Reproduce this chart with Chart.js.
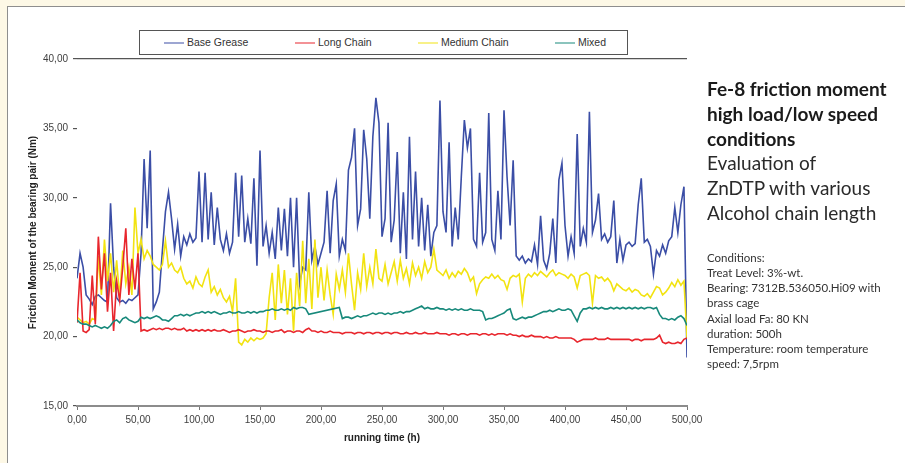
<!DOCTYPE html>
<html>
<head>
<meta charset="utf-8">
<title>Fe-8 friction moment</title>
<script src="https://cdn.jsdelivr.net/npm/chart.js@4.4.1/dist/chart.umd.min.js"></script>
<style>
    html, body { margin: 0; padding: 0; }
    body {
        width: 905px; height: 463px; position: relative; overflow: hidden;
        background: #fdf8e6;
        font-family: "Liberation Sans", Arial, sans-serif;
    }
    #panel {
        position: absolute; left: 7px; top: 6px; width: 910px; height: 470px;
        background: #fff; border: 1px solid #8e8e8e;
    }
    #chartWrap { position: absolute; left: 0; top: 0; width: 720px; height: 463px; }
    #legend {
        position: absolute; left: 139px; top: 30px; width: 487px; height: 23px;
        border: 1px solid #555; background: #fff;
    }
    .item {
        position: absolute; top: 0; height: 23px; line-height: 23px;
        font-size: 10.5px; color: #333; white-space: nowrap;
    }
    .item i {
        display: inline-block; width: 20px; height: 2px; vertical-align: middle;
        margin-right: 3px; opacity: 0.5;
    }
    #note {
        position: absolute; left: 707px; top: 77px; width: 198px;
        font-family: Lato, "Open Sans", sans-serif;
    }
    #note .big { font-size: 19px; line-height: 24.8px; color: #2a2a2a; }
    #note .big b { color: #1a1a1a; }
    #note .small { margin-top: 24px; font-size: 11.5px; line-height: 15.2px; color: #333; }
</style>
</head>
<body>
<div id="panel"></div>
<div id="chartWrap"><canvas id="frictionChart"></canvas></div>
<div id="legend"></div>
<div id="note">
    <div class="big">
        <b>Fe-8 friction moment<br>high load/low speed<br>conditions</b><br>
        Evaluation of<br>ZnDTP with various<br>Alcohol chain length
    </div>
    <div class="small">
        Conditions:<br>
        Treat Level: 3%-wt.<br>
        Bearing: 7312B.536050.Hi09 with<br>
        brass cage<br>
        Axial load Fa: 80 KN<br>
        duration: 500h<br>
        Temperature: room temperature<br>
        speed: 7,5rpm
    </div>
</div>

<script>
// running time (h), one reading every 2.5 h
const hours = [
    0, 2.5, 5, 7.5, 10, 12.5, 15, 17.5, 20, 22.5, 25, 27.5, 30, 32.5, 35, 37.5, 40, 42.5, 45, 47.5,
    50, 52.5, 55, 57.5, 60, 62.5, 65, 67.5, 70, 72.5, 75, 77.5, 80, 82.5, 85, 87.5, 90, 92.5, 95, 97.5,
    100, 102.5, 105, 107.5, 110, 112.5, 115, 117.5, 120, 122.5, 125, 127.5, 130, 132.5, 135, 137.5, 140, 142.5, 145, 147.5,
    150, 152.5, 155, 157.5, 160, 162.5, 165, 167.5, 170, 172.5, 175, 177.5, 180, 182.5, 185, 187.5, 190, 192.5, 195, 197.5,
    200, 202.5, 205, 207.5, 210, 212.5, 215, 217.5, 220, 222.5, 225, 227.5, 230, 232.5, 235, 237.5, 240, 242.5, 245, 247.5,
    250, 252.5, 255, 257.5, 260, 262.5, 265, 267.5, 270, 272.5, 275, 277.5, 280, 282.5, 285, 287.5, 290, 292.5, 295, 297.5,
    300, 302.5, 305, 307.5, 310, 312.5, 315, 317.5, 320, 322.5, 325, 327.5, 330, 332.5, 335, 337.5, 340, 342.5, 345, 347.5,
    350, 352.5, 355, 357.5, 360, 362.5, 365, 367.5, 370, 372.5, 375, 377.5, 380, 382.5, 385, 387.5, 390, 392.5, 395, 397.5,
    400, 402.5, 405, 407.5, 410, 412.5, 415, 417.5, 420, 422.5, 425, 427.5, 430, 432.5, 435, 437.5, 440, 442.5, 445, 447.5,
    450, 452.5, 455, 457.5, 460, 462.5, 465, 467.5, 470, 472.5, 475, 477.5, 480, 482.5, 485, 487.5, 490, 492.5, 495, 497.5,
    500
];

// friction moment (Nm)
const baseGrease = [
    24.2, 26.0, 25.0, 23.0, 22.7, 22.3, 22.9, 23.0, 22.8, 22.6, 22.5, 29.6, 25.0, 22.8, 22.5, 22.6, 22.4, 22.7, 22.6, 22.8,
    23.0, 26.0, 32.8, 27.8, 33.4, 22.0, 22.5, 23.2, 26.2, 29.0, 30.4, 28.5, 26.3, 28.1, 25.8, 27.2, 26.6, 27.4, 26.8, 27.1,
    31.9, 26.8, 31.8, 27.0, 30.4, 26.6, 29.3, 27.0, 26.2, 27.4, 26.0, 26.8, 31.8, 27.2, 31.6, 26.8, 28.5, 26.7, 31.4, 25.1,
    33.4, 26.5, 28.0, 26.0, 27.5, 25.6, 29.3, 26.2, 29.2, 25.8, 30.0, 25.0, 30.0, 23.8, 25.0, 24.8, 30.4, 25.5, 26.5, 25.2,
    26.0, 26.8, 30.5, 26.0, 29.8, 31.0, 25.8, 27.0, 26.2, 32.0, 32.9, 35.0, 28.0, 29.2, 34.9, 32.8, 28.5, 34.4, 37.2, 35.4,
    27.2, 28.5, 35.4, 26.8, 28.4, 33.3, 26.0, 30.4, 25.6, 34.4, 27.0, 31.9, 26.5, 30.0, 26.2, 29.5, 25.8, 27.5, 28.0, 37.0,
    29.0, 27.5, 34.0, 26.5, 29.3, 27.0, 31.5, 35.6, 33.6, 35.0, 27.0, 26.5, 31.8, 26.8, 27.5, 36.1, 27.0, 26.2, 30.5, 27.0,
    36.3, 31.5, 28.0, 32.7, 25.8, 25.5, 25.8, 25.3, 25.6, 25.4, 26.6, 25.2, 28.7, 25.5, 24.9, 26.0, 28.5, 25.3, 31.3, 32.5,
    28.0, 25.8, 27.2, 26.0, 34.6, 26.5, 27.8, 26.8, 36.2, 27.5, 28.4, 30.3, 27.0, 27.4, 26.8, 27.2, 29.8, 25.3, 27.0, 25.5,
    26.6, 26.8, 26.5, 26.7, 29.5, 31.4, 26.8, 27.0, 26.5, 24.5, 26.2, 25.8, 26.6, 26.0, 26.9, 27.2, 29.3, 27.5, 29.5, 30.8,
    18.5
];

const longChain = [
    21.0, 24.6, 20.4, 20.3, 20.5, 24.4, 20.9, 27.2, 23.4, 26.0, 21.8, 24.6, 20.4, 24.0, 22.6, 25.0, 27.8, 23.0, 25.6, 23.4,
    26.0, 20.4, 20.5, 20.4, 20.5, 20.6, 20.5, 20.6, 20.5, 20.6, 20.6, 20.5, 20.6, 20.5, 20.5, 20.6, 20.4, 20.5, 20.4, 20.5,
    20.4, 20.5, 20.4, 20.5, 20.4, 20.5, 20.4, 20.4, 20.5, 20.4, 20.3, 20.4, 20.4, 20.5, 20.4, 20.3, 20.4, 20.4, 20.5, 20.4,
    20.4, 20.3, 20.4, 20.4, 20.3, 20.4, 20.4, 20.5, 20.3, 20.4, 20.4, 20.3, 20.4, 20.4, 20.3, 20.5, 20.6, 20.4, 20.4, 20.3,
    20.4, 20.3, 20.3, 20.4, 20.3, 20.3, 20.3, 20.2, 20.3, 20.3, 20.3, 20.2, 20.3, 20.3, 20.2, 20.3, 20.3, 20.2, 20.3, 20.3,
    20.2, 20.3, 20.3, 20.2, 20.3, 20.3, 20.2, 20.2, 20.3, 20.2, 20.2, 20.3, 20.2, 20.2, 20.3, 20.2, 20.2, 20.2, 20.3, 20.2,
    20.2, 20.2, 20.1, 20.2, 20.2, 20.1, 20.2, 20.2, 20.1, 20.2, 20.2, 20.2, 20.1, 20.2, 20.2, 20.1, 20.2, 20.1, 20.2, 20.2,
    20.2, 20.1, 20.2, 20.1, 20.1, 20.0, 20.1, 20.0, 20.0, 20.1, 20.0, 20.0, 20.0, 19.9, 20.0, 19.9, 19.9, 20.0, 19.9, 19.9,
    19.9, 19.9, 19.9, 19.8, 19.6, 19.7, 19.8, 19.8, 19.8, 19.8, 19.9, 19.8, 19.8, 19.8, 19.9, 19.8, 19.8, 19.8, 19.8, 19.8,
    19.8, 19.8, 19.7, 19.8, 19.8, 19.7, 19.8, 19.8, 19.8, 19.8, 19.9, 20.1, 19.6, 19.5, 19.6, 19.5, 19.5, 19.6, 19.5, 19.8,
    19.9
];

const mediumChain = [
    21.4, 21.2, 21.0, 21.1, 20.9, 21.3, 21.2, 25.8, 23.0, 27.0, 24.0, 26.0, 23.2, 25.5, 22.8, 26.2, 23.8, 25.0, 23.0, 29.3,
    26.0, 27.0, 25.6, 26.2, 25.8, 25.2, 25.0, 24.8, 25.2, 26.9, 25.0, 25.3, 24.8, 24.6, 25.0, 24.2, 23.8, 24.0, 23.5, 24.3,
    23.8, 23.6, 24.3, 24.8, 23.2, 23.6, 23.0, 23.4, 22.8, 22.5, 22.9, 21.8, 24.2, 19.6, 19.4, 19.8, 19.6, 19.9, 19.7, 19.9,
    19.8, 19.9, 20.2, 22.8, 24.6, 21.2, 25.2, 22.4, 24.8, 21.6, 24.2, 20.4, 24.6, 22.2, 26.9, 22.4, 25.6, 22.0, 27.0, 22.8,
    25.0, 22.6, 24.8, 23.0, 21.6, 24.5, 23.4, 24.8, 23.2, 26.0, 23.8, 21.9, 24.6, 23.4, 26.0, 23.6, 25.0, 23.8, 26.3, 24.2,
    24.0, 25.2, 23.8, 24.6, 25.4, 24.0, 25.5, 24.2, 24.9, 23.8, 25.3, 24.4, 25.0, 24.2, 25.4, 24.6, 25.0, 26.3, 24.8, 24.6,
    24.4, 24.8, 24.2, 24.6, 24.3, 24.7, 24.5, 24.9, 24.6, 24.0, 24.3, 23.1, 23.8, 24.1, 24.3, 24.2, 24.5, 24.2, 24.4, 24.1,
    24.0, 23.4, 24.2, 24.4, 24.3, 24.5, 22.5, 24.2, 24.5, 24.3, 24.6, 24.4, 24.7, 24.5, 24.3, 24.6, 24.8, 24.4, 24.6, 24.5,
    24.4, 24.2, 24.5, 24.3, 23.5, 24.4, 24.5, 24.6, 24.4, 22.4, 24.4, 24.2, 24.3, 24.0, 24.2, 23.9, 23.3, 23.8, 23.6, 23.4,
    23.3, 23.5, 23.2, 23.4, 23.3, 23.0, 22.9, 23.1, 22.8, 23.2, 23.6, 23.5, 23.0, 23.2, 23.5, 23.9, 23.6, 24.1, 23.7, 24.0,
    19.9
];

// gap between ~190 h and 215 h: no readings, the line is drawn straight across
const mixed = [
    21.2, 21.0, 20.9, 20.9, 20.8, 20.7, 20.8, 20.7, 20.6, 20.7, 20.6, 20.8, 21.1, 21.2, 21.0, 21.3, 21.4, 21.2, 21.1, 21.0,
    21.1, 21.4, 21.3, 21.4, 21.3, 21.4, 21.5, 21.4, 21.2, 21.2, 21.1, 21.3, 21.5, 21.5, 21.6, 21.5, 21.6, 21.5, 21.6, 21.7,
    21.7, 21.8, 21.7, 21.8, 21.7, 21.8, 21.7, 21.6, 21.7, 21.7, 21.8, 21.7, 21.7, 21.8, 21.7, 21.7, 21.8, 21.7, 21.8, 21.7,
    21.8, 21.8, 21.9, 21.9, 22.0, 21.9, 21.9, 22.0, 21.9, 22.0, 21.9, 22.1, 22.0, 22.1, 22.1, 22.0, 21.6, null, null, null,
    null, null, null, null, null, null, 22.1, 21.3, 21.4, 21.4, 21.3, 21.4, 21.5, 21.4, 21.5, 21.5, 21.6, 21.7, 21.6, 21.7,
    21.7, 21.6, 21.7, 21.6, 21.7, 21.7, 21.8, 21.7, 21.8, 21.8, 21.9, 22.0, 22.1, 22.2, 22.0, 22.1, 22.0, 22.0, 22.1, 22.0,
    22.0, 21.9, 22.0, 21.9, 22.0, 21.9, 22.0, 21.9, 21.9, 22.0, 21.9, 21.9, 21.9, 21.8, 21.2, 21.3, 21.3, 21.4, 21.5, 21.6,
    21.7, 21.9, 22.0, 21.3, 21.2, 21.3, 21.4, 21.3, 21.4, 21.4, 21.5, 21.6, 21.7, 21.8, 21.8, 21.9, 21.8, 21.9, 22.0, 21.9,
    21.9, 22.0, 21.9, 21.5, 21.1, 21.7, 22.0, 22.0, 22.1, 22.0, 22.1, 22.0, 22.1, 22.0, 22.0, 22.1, 22.0, 22.1, 22.0, 22.1,
    22.0, 22.1, 22.0, 22.1, 22.0, 22.1, 22.0, 22.1, 22.1, 22.0, 22.1, 21.6, 21.3, 21.3, 21.2, 21.3, 21.2, 21.4, 21.5, 21.3,
    20.8
];

const seriesNames = ['Base Grease', 'Long Chain', 'Medium Chain', 'Mixed'];
const seriesColors = ['#3b4ea6', '#e8262d', '#f2e311', '#17897b'];
const seriesValues = [baseGrease, longChain, mediumChain, mixed];
const drawOrder = [4, 2, 3, 1];      // blue at the back, teal on top
const legendLeft = [24, 155, 278, 415];

const fmt = v => Number(v).toFixed(2).replace('.', ',');

// html legend in its box
const legend = document.getElementById('legend');
seriesNames.forEach((name, i) => {
    const span = document.createElement('span');
    span.className = 'item';
    span.style.left = legendLeft[i] + 'px';
    span.innerHTML = '<i style="background:' + seriesColors[i] + '"></i>' + name;
    legend.appendChild(span);
});

Chart.defaults.font.family = '"Liberation Sans", Arial, sans-serif';

const datasets = seriesNames.map((name, i) => ({
    label: name,
    data: hours.map((h, j) => ({ x: h, y: seriesValues[i][j] })),
    borderColor: seriesColors[i],
    borderWidth: 1.6,
    pointRadius: 0,
    tension: 0,
    spanGaps: true,
    order: drawOrder[i]
}));

const ctx = document.getElementById('frictionChart').getContext('2d');
new Chart(ctx, {
    type: 'line',
    data: { datasets: datasets },
    options: {
        responsive: true,
        maintainAspectRatio: false,
        animation: false,
        layout: { padding: { left: 10, right: 33, top: 59, bottom: 10 } },
        plugins: {
            legend: { display: false },
            tooltip: { enabled: false }
        },
        scales: {
            x: {
                type: 'linear',
                min: 0,
                max: 500,
                afterFit: s => { s.height = 47; },
                ticks: {
                    stepSize: 50, autoSkip: false, maxRotation: 0, padding: 4,
                    color: '#404040', font: { size: 10 },
                    callback: v => fmt(v)
                },
                grid: { drawOnChartArea: false, drawTicks: true, tickLength: 4, tickColor: '#777' },
                border: { display: true, color: '#8c8c8c', width: 2 },
                title: {
                    display: true, text: 'running time (h)', color: '#222',
                    font: { size: 10, weight: 'bold' }, padding: { top: 0, bottom: 9 }
                }
            },
            y: {
                min: 15,
                max: 40,
                afterFit: s => { s.width = 67; },
                ticks: {
                    stepSize: 5, padding: 5, color: '#404040', font: { size: 10 },
                    callback: v => fmt(v)
                },
                grid: {
                    color: c => (c.tick && c.tick.value === 40) ? '#555' : 'rgba(0,0,0,0)',
                    lineWidth: 1.2, drawTicks: true, tickLength: 4, tickColor: '#555'
                },
                border: { display: false },
                title: {
                    display: true, text: 'Friction Moment of the bearing pair (Nm)', color: '#222',
                    font: { size: 10, weight: 'bold' }, padding: { top: 17, bottom: 0 }
                }
            }
        }
    }
});
</script>
</body>
</html>
